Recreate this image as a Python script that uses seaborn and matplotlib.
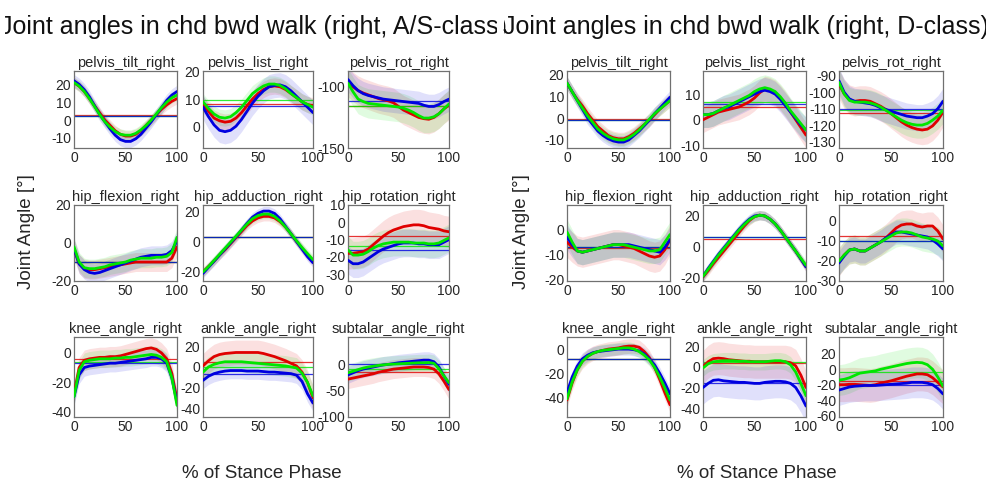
import matplotlib
matplotlib.use("Agg")
import numpy as np
import pandas as pd
import matplotlib.pyplot as plt
import seaborn as sns
from matplotlib.patches import Rectangle

# ---------------------------------------------------------------- data
STANCE = list(range(0, 101, 5))          # % of stance phase
GROUPS = ["red", "green", "blue"]        # series order inside every list below
JOINTS = ["pelvis_tilt_right", "pelvis_list_right", "pelvis_rot_right",
          "hip_flexion_right", "hip_adduction_right", "hip_rotation_right",
          "knee_angle_right", "ankle_angle_right", "subtalar_angle_right"]

# ---- A/S-class mean curves (red, green, blue) -------------------------
AS_PELVIS_TILT = [
    [21, 19, 16, 12, 8, 4, 0, -3, -6, -8, -9, -9, -8, -6, -3, 0, 3, 6, 8.5, 10.5, 12],
    [21, 19, 16, 12, 7.5, 3, -1, -4, -6.5, -8, -8.5, -8.5, -7.5, -5.5, -3, 0, 3.5, 7, 10, 12.5, 14],
    [22, 20, 17, 13, 8, 3, -1, -5, -8.5, -11, -12, -12, -10.5, -8, -4.5, -1, 3, 7, 11, 14, 16]]
AS_PELVIS_LIST = [
    [8, 5.5, 3, 2, 1.5, 1.8, 3, 5, 7.5, 10, 12, 13.5, 14.5, 14.8, 14.5, 13.5, 12, 10.5, 9, 8, 7.5],
    [9, 6.5, 4.5, 3.3, 3, 3.5, 5, 7, 9.5, 12, 13.5, 14.8, 15.5, 15.5, 15, 13.8, 12, 10.5, 9, 8, 7],
    [7, 3.5, 0.5, -1.5, -2, -1.5, 0, 2.5, 5.5, 8.5, 11, 13, 14.5, 15, 15.2, 14.5, 13, 11, 9, 7, 5]]
AS_PELVIS_ROT = [
    [-96, -100, -103, -105, -106.5, -108, -109.5, -110.5, -111.5, -113, -116, -119, -121, -123, -125, -126, -126.5, -125, -122, -118, -115],
    [-97, -104, -110, -112, -113.5, -114, -114.5, -115, -115.5, -116, -116.5, -117.5, -119, -121, -123.5, -125.5, -125.5, -124.5, -122, -118, -114],
    [-94, -99, -103, -105.5, -107, -108, -109, -110, -110.5, -111, -111.5, -112, -112.5, -113, -113.5, -115, -116, -116, -114.5, -112, -110]]
AS_HIP_FLEXION = [
    [-3, -11, -13.5, -14, -14, -13.5, -13, -12.5, -12, -11.5, -11, -10.5, -10, -10, -10, -10, -10, -10, -10, -8, -2],
    [-2, -10, -13, -13.5, -13.5, -13, -12.5, -11.5, -11, -10.5, -10, -9, -8.5, -8, -8, -8, -7.5, -7.5, -7, -5, 3],
    [-3, -11, -14, -15.5, -16, -15.5, -14.5, -13.5, -12.5, -11.5, -10.5, -9.5, -8.5, -7.5, -7, -6.5, -6.5, -6.5, -6, -4, 1]]
AS_HIP_ADDUCTION = [
    [-20, -16.5, -13, -9, -5.5, -1.5, 2.5, 6.5, 10.5, 13.5, 15.5, 16.5, 16.5, 15.5, 13, 9.5, 5, 0, -4.5, -9, -13],
    [-20, -16.5, -12.5, -8.5, -4.5, -0.5, 3.5, 7.5, 11.5, 15, 17, 18, 18, 16.5, 13.5, 9.5, 5, 0.5, -4, -8, -12],
    [-21, -17, -13, -9, -5, -1, 3, 7.5, 12, 16, 18.5, 20, 20, 18.5, 15, 10, 5, 0, -5, -10, -14]]
AS_HIP_ROTATION = [
    [-18, -18, -17.5, -17, -15.5, -13, -10.5, -8, -6, -4.5, -3.5, -2.5, -2, -1.5, -1.5, -2, -3, -3.5, -4, -5, -5.5],
    [-16, -19, -19, -18.5, -17, -15, -13.5, -12.5, -12, -11.5, -11.5, -11.5, -11.5, -12, -12, -12, -12.5, -12.5, -12, -10.5, -9],
    [-22, -24, -24, -23, -21, -19, -17, -15.5, -14.5, -13.5, -12.5, -12, -12, -12, -12.5, -12.5, -13, -13, -13, -11.5, -10]]
AS_KNEE = [
    [-28, -10, -5, -4, -3.5, -3, -3, -2.5, -2.5, -2, -1, 0, 1, 2, 3, 3.5, 2.5, 0, -4, -14, -32],
    [-30, -12, -6, -5, -4.5, -4, -4, -4, -3.5, -3.5, -3, -3, -2.5, -2, -1.5, -1, -1.5, -3, -6, -17, -36],
    [-30, -15, -10, -9, -8.5, -8, -7.5, -7, -7, -6.5, -6, -5.5, -5, -4.5, -4, -3, -3, -4, -7, -17, -34]]
AS_ANKLE = [
    [1, 6, 10, 12, 13, 13.5, 14, 14, 14, 14, 14, 13, 11.5, 10, 8, 6, 3.5, 1, -5, -15, -30],
    [-5, 0, 2.5, 4, 5, 5, 5, 5, 4.5, 4, 3.5, 3, 2.5, 2, 1.5, 1, 0, -1, -6, -15, -28],
    [-13, -9, -6.5, -5, -4, -3.5, -3.5, -3.5, -4, -4, -4, -4.5, -5, -5, -5.5, -6, -6.5, -8, -14, -26, -35]]
AS_SUBTALAR = [
    [-28, -26, -24, -22, -20, -18, -15, -13, -11, -9, -8, -7, -6, -5, -5, -5, -6, -9, -18, -32, -48],
    [-16, -13, -10, -7, -5, -3.5, -2, -1, 0, 0.5, 1, 1.5, 2, 2.5, 3, 3, 3.5, 2, -8, -22, -35],
    [-20, -16, -12, -9, -7, -5, -3, -1, 0, 1.5, 3, 4, 5, 6, 7, 8, 8, 5, -5, -22, -38]]

# ---- D-class mean curves (red, green, blue) ---------------------------
D_PELVIS_TILT = [
    [16, 12, 8.5, 5.5, 2, -1, -4, -6, -8, -9, -9.5, -9.5, -8.5, -7, -5, -3, -1, 1.5, 4, 6, 8],
    [16, 12, 8, 4.5, 1, -2, -5, -7, -8.5, -9.5, -10, -10, -9, -7.5, -5.5, -3, -0.5, 2, 4, 6, 8],
    [16, 12, 8, 4, 0, -3, -6, -8, -9.5, -10.5, -11, -11, -10, -8, -6, -3.5, -1, 2, 4.5, 7, 9.5]]
D_PELVIS_LIST = [
    [0, 1, 2, 3, 3.5, 4, 4.5, 5, 6, 7, 8.5, 10.5, 12, 11.5, 10.5, 8.5, 6, 3, 0, -3, -6],
    [2, 2, 2.5, 3.5, 4.5, 5.5, 6.5, 7.5, 8.5, 9.5, 11, 12, 12.5, 12, 11, 9, 6.5, 3.5, 1, -1.5, -4],
    [2, 2, 2.5, 3.5, 4.5, 5, 6, 7, 8, 9, 10, 11, 11.5, 11, 10, 8, 5.5, 3, 0.5, -2, -4]]
D_PELVIS_ROT = [
    [-95, -101, -104.5, -105.5, -105, -105, -105.5, -107, -108.5, -110.5, -113, -115.5, -118, -120, -121.5, -122.5, -123, -122.5, -120.5, -117, -112],
    [-94, -101, -105, -106, -106, -106, -106.5, -107.5, -109, -111, -113, -115, -117, -118.5, -119.5, -120, -120, -119, -117, -114.5, -111],
    [-93, -100, -104, -105.5, -106, -106.5, -107, -108, -109.5, -110.5, -111.5, -112.5, -113.5, -114.5, -115, -115.5, -115.5, -114.5, -113, -110, -105.5]]
D_HIP_FLEXION = [
    [-5, -7, -8.5, -9, -8.5, -8, -7.5, -7, -6.5, -6, -6, -6.5, -7, -7.5, -8.5, -9.5, -10.5, -11, -10.5, -8, -4],
    [-1, -5, -8.5, -9, -8.5, -8, -7.5, -7, -6.5, -6, -6, -6, -6.5, -7, -7.5, -8, -8.5, -8.5, -8, -5, -2],
    [-3, -6, -8.5, -9, -8.5, -8, -7.5, -7, -6.5, -6, -6, -6, -6, -6.5, -7, -7.5, -8, -8.5, -9, -7, -4]]
D_HIP_ADDUCTION = [
    [-19.5, -15.5, -11, -7, -3, 1, 5, 9, 13, 16.5, 19, 20, 19.5, 17.5, 14.5, 10.5, 6, 1.5, -3, -8, -13],
    [-19, -14.5, -10, -5.5, -1.5, 2.5, 6.5, 10.5, 14, 17, 19, 20, 19.5, 17.5, 14.5, 10.5, 6, 1.5, -3, -7.5, -12],
    [-19, -14, -9.5, -5, -1, 3, 7, 11, 14.5, 17.5, 19.5, 20, 19.5, 17.5, 14.5, 10.5, 6, 1.5, -3, -8, -13]]
D_HIP_ROTATION = [
    [-20.5, -17, -14.5, -14, -15, -15, -13.5, -12, -10.5, -8.5, -6, -3.5, -2, -1.5, -1.5, -2.5, -3, -2.5, -2.5, -5, -9],
    [-20, -17, -14.5, -14, -15, -15, -13.5, -12, -10.5, -9, -7.5, -6, -5.5, -5.5, -6, -7, -8, -8.5, -9, -10, -12.5],
    [-21, -17.5, -14.5, -14, -15, -15, -13.5, -12, -10.5, -8.5, -7, -5.5, -5.5, -6, -6.5, -7, -7.5, -8, -9.5, -11.5, -14]]
D_KNEE = [
    [-42, -28, -17, -10, -6, -3.5, -2, -1, 0, 0.5, 1, 2, 2.5, 2.5, 1.5, -2, -7, -15, -25, -36, -46],
    [-41, -27, -17, -10, -6, -3.5, -2, -1, -0.5, 0, 0.5, 1, 1, 0, -2, -5, -9, -15, -23, -32, -42],
    [-36, -23, -14, -8, -5, -3, -2, -1.5, -1, -0.5, 0, 0, 0, -0.5, -1.5, -4, -8, -13, -20, -28, -37]]
D_ANKLE = [
    [0, 5, 8, 8.5, 8, 7, 6.5, 6, 5.5, 5.5, 5, 5, 5, 5, 5, 5, 5, 4, 1, -8, -20],
    [-1, 3, 5, 5.5, 6, 6, 6, 5.5, 5.5, 5, 5, 5, 5, 5.5, 6, 6, 5, 2, -5, -16, -28],
    [-20, -16, -13, -12.5, -13.5, -14, -14.5, -15, -15, -15.5, -16, -16, -15, -14.5, -14, -14, -14.5, -16, -20, -28, -38]]
D_SUBTALAR = [
    [-20, -20, -19.5, -19.5, -20, -20.5, -21, -20, -18, -16.5, -15, -13, -11, -9, -7.5, -6, -6, -7, -11, -17, -23],
    [-14, -13, -11, -8, -5, -4, -3, -2, 0, 1.5, 3, 4.5, 6, 7.5, 8.5, 9, 8.5, 6, 0, -10, -22],
    [-27, -25, -23, -22, -21.5, -21, -21, -21, -20.5, -20, -19.5, -19, -18.5, -18, -17, -17, -17, -18, -20, -25, -32]]

# ---- spread (SD) per series and reference (overall mean) lines --------
AS_SD = [[3, 3, 3.5], [3, 3, 4.5], [12, 12, 10], [5, 5, 5], [3, 3, 3],
         [9, 8, 8], [7, 6, 6], [12, 10, 8], [18, 16, 16]]
D_SD = [[3, 3, 3], [5, 5, 5], [9, 8, 8], [6, 5, 5], [3, 3, 3],
        [7, 7, 6], [6, 5, 5], [16, 8, 16], [22, 20, 20]]
AS_REF = [[3, 2, 2], [8, 9.5, 7.5], [-115.7, -116, -111.4], [-10, -10, -10], [3, 3, 3],
          [-8, -14, -16], [-4, -6, -7], [5, 0, -7], [-15, -8, 0]]
D_REF = [[-0.5, -1, -1], [5, 7, 6], [-112.6, -111, -110], [-7.5, -7, -7], [4.5, 6, 6],
         [-7.5, -10, -10], [-8, -8, -8], [4, 5, -16], [-15, -3, -20]]

# ---- axis ranges and ticks -------------------------------------------
AS_YLIM = [(-15.7, 27.5), (-8, 20.3), (-150, -87), (-20, 20), (-26, 24),
           (-34, 10), (-44, 11), (-48.5, 29), (-100, 52)]
AS_YTICKS = [[-10, 0, 10, 20], [0, 10, 20], [-150, -100], [-20, 0, 20], [-20, 0, 20],
             [-30, -20, -10, 0, 10], [-40, -20, 0], [-40, -20, 0, 20], [-100, -50, 0]]
D_YLIM = [(-13.7, 21.5), (-11, 19), (-134, -87), (-20.4, 9.7), (-22, 26.5),
          (-30, 8), (-56, 10), (-48.6, 29), (-62, 42)]
D_YTICKS = [[-10, 0, 10, 20], [-10, 0, 10], [-130, -120, -110, -100, -90], [-20, -10, 0],
            [-20, 0, 20], [-30, -20, -10, 0], [-40, -20, 0], [-40, -20, 0, 20],
            [-60, -40, -20, 0, 20]]
XTICKS = [0, 50, 100]

AS_CURVES = [AS_PELVIS_TILT, AS_PELVIS_LIST, AS_PELVIS_ROT, AS_HIP_FLEXION,
             AS_HIP_ADDUCTION, AS_HIP_ROTATION, AS_KNEE, AS_ANKLE, AS_SUBTALAR]
D_CURVES = [D_PELVIS_TILT, D_PELVIS_LIST, D_PELVIS_ROT, D_HIP_FLEXION,
            D_HIP_ADDUCTION, D_HIP_ROTATION, D_KNEE, D_ANKLE, D_SUBTALAR]

# ---------------------------------------------------------------- style
sns.set_theme(style="white")
plt.rcParams["font.family"] = ["Liberation Sans", "DejaVu Sans"]
plt.rcParams["axes.unicode_minus"] = False

COLORS = {"red": "#e00000", "green": "#00e600", "blue": "#0000e0"}
DRAW_ORDER = ["red", "blue", "green"]
FRAME = "#707070"
TEXT = "#262626"

W, H = 987, 483
fig = plt.figure(figsize=(W / 100, H / 100), dpi=100)
fig.patch.set_facecolor("white")

# axes boxes in pixels: (left, right) per column, (top, bottom) per row
AS_COLS = [(74, 177), (203, 313), (348, 449)]
D_COLS = [(567, 670), (703, 806), (839, 943)]
ROWS = [(71, 148), (205, 281), (337, 417)]


def add_box(x0, x1, y0, y1):
    return fig.add_axes([x0 / W, 1 - y1 / H, (x1 - x0) / W, (y1 - y0) / H])


def draw_panel(cols, curves, sds, refs, ylims, yticks):
    for k, joint in enumerate(JOINTS):
        r, c = divmod(k, 3)
        ax = add_box(cols[c][0], cols[c][1], ROWS[r][0], ROWS[r][1])
        frame = pd.DataFrame({
            "stance": STANCE * 3,
            "angle": [v for series in curves[k] for v in series],
            "group": [g for g in GROUPS for _ in STANCE],
        })
        x = np.array(STANCE)
        for gi, g in enumerate(GROUPS):
            y = np.array(curves[k][gi], dtype=float)
            ax.fill_between(x, y - sds[k][gi], y + sds[k][gi],
                            color=COLORS[g], alpha=0.12, lw=0, zorder=1)
        for gi, g in enumerate(GROUPS):
            ax.axhline(refs[k][gi], color=COLORS[g], lw=0.9, alpha=0.8, zorder=2)
        sns.lineplot(data=frame, x="stance", y="angle", hue="group",
                     hue_order=DRAW_ORDER, palette=COLORS, linewidth=2.0,
                     legend=False, ax=ax, zorder=3)
        ax.set_xlim(0, 100)
        ax.set_ylim(*ylims[k])
        ax.set_xticks(XTICKS)
        ax.set_yticks(yticks[k])
        ax.set_xlabel("")
        ax.set_ylabel("")
        ax.set_title(joint, fontsize=10.5, color=TEXT, pad=3)
        ax.tick_params(direction="in", length=3, width=0.8, color=FRAME,
                       labelcolor=TEXT, labelsize=10, pad=2)
        for sp in ax.spines.values():
            sp.set_visible(True)
            sp.set_color(FRAME)
            sp.set_linewidth(0.9)


draw_panel(AS_COLS, AS_CURVES, AS_SD, AS_REF, AS_YLIM, AS_YTICKS)
draw_panel(D_COLS, D_CURVES, D_SD, D_REF, D_YLIM, D_YTICKS)

# figure titles; the left one is trimmed at both edges of its half
fig.text(253 / W, 1 - 27 / H, "Joint angles in chd bwd walk (right, A/S-class)",
         ha="center", va="center", fontsize=18, color="#111111", zorder=3)
for x0, x1 in ((0, 5), (497, 504)):
    fig.patches.append(Rectangle((x0 / W, 1 - 45 / H), (x1 - x0) / W, 37 / H,
                                 transform=fig.transFigure, facecolor="white",
                                 edgecolor="none", zorder=4))
fig.text(746 / W, 1 - 27 / H, "Joint angles in chd bwd walk (right, D-class)",
         ha="center", va="center", fontsize=18, color="#111111", zorder=5)

for xc in (27, 522):
    fig.text(xc / W, 1 - 232 / H, "Joint Angle [°]", rotation=90,
             ha="center", va="center", fontsize=13.5, color=TEXT)
for xc in (262, 757):
    fig.text(xc / W, 1 - 473 / H, "% of Stance Phase",
             ha="center", va="center", fontsize=13.5, color=TEXT)

fig.savefig("out.png", dpi=100)
